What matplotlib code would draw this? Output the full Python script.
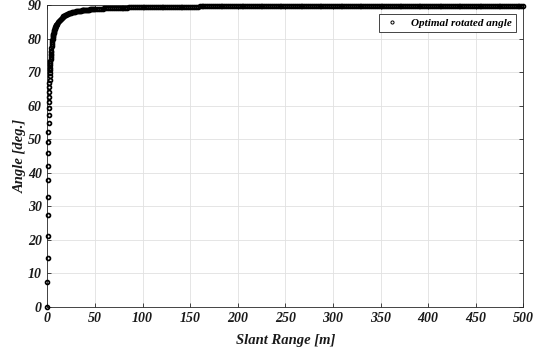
import matplotlib
matplotlib.use('Agg')
import matplotlib.pyplot as plt
import numpy as np

# ---------------- data ----------------
# steep part: individual markers near the y-axis
near_range = [0.000, 0.125, 0.250, 0.375, 0.500, 0.625, 0.750, 0.875,
              1.000, 1.125, 1.250, 1.375, 1.500, 1.625, 1.750, 1.875,
              2.000, 2.125, 2.250, 2.375, 2.500, 2.625, 2.750, 2.875,
              3.000, 3.125, 3.250, 3.375, 3.500, 3.625, 3.750, 3.875]
near_angle = [0.00, 7.35, 14.47, 21.16, 27.30, 32.83, 37.75, 42.08,
              45.91, 49.27, 52.22, 54.83, 57.14, 59.19, 61.03, 62.67,
              64.16, 65.50, 66.71, 67.81, 68.82, 69.74, 70.60, 71.38,
              72.10, 72.78, 73.40, 73.98, 74.53, 75.04, 75.52, 75.96]

# knee of the curve
knee_range = [4.00, 4.25, 4.50, 4.75, 5.00, 5.25, 5.50, 5.75, 6.00,
              6.25, 6.50, 6.75, 7.00, 7.25, 7.50, 7.75, 8.00, 8.25,
              8.50, 8.75, 9.00, 9.25, 9.50, 9.75, 10.00]
knee_angle = [76.37, 77.14, 77.83, 78.46, 79.02, 79.53, 80.00, 80.43, 80.82,
              81.18, 81.51, 81.82, 82.11, 82.38, 82.63, 82.86, 83.09, 83.29,
              83.49, 83.67, 83.85, 84.01, 84.17, 84.32, 84.46]

# 11 .. 50 m, every metre
mid_range = list(range(11, 51))
mid_angle = [84.96, 85.38, 85.73, 86.04, 86.30, 86.53, 86.73, 86.92, 87.08, 87.22,
             87.35, 87.47, 87.58, 87.69, 87.78, 87.86, 87.94, 88.01, 88.08, 88.15,
             88.21, 88.26, 88.32, 88.37, 88.41, 88.46, 88.50, 88.54, 88.57, 88.61,
             88.64, 88.68, 88.71, 88.74, 88.76, 88.79, 88.82, 88.84, 88.87, 88.89]

# 52 .. 500 m, every 2 m
far_range = list(range(52, 501, 2))
far_angle = [88.9, 89.0, 89.0, 89.0, 89.1, 89.1, 89.1, 89.2, 89.2, 89.2, 89.2, 89.2,
             89.3, 89.3, 89.3, 89.3, 89.3,
             89.4, 89.4, 89.4, 89.4, 89.4, 89.4, 89.4, 89.4,
             89.5, 89.5, 89.5, 89.5, 89.5, 89.5, 89.5, 89.5, 89.5, 89.5, 89.5,
             89.6, 89.6, 89.6, 89.6, 89.6, 89.6, 89.6, 89.6, 89.6,
             89.6, 89.6, 89.6, 89.6, 89.6, 89.6, 89.6, 89.6, 89.6,
             89.7, 89.7, 89.7, 89.7, 89.7, 89.7, 89.7, 89.7,
             89.7, 89.7, 89.7, 89.7, 89.7, 89.7, 89.7, 89.7,
             89.7, 89.7, 89.7, 89.7, 89.7, 89.7, 89.7, 89.7,
             89.7, 89.7, 89.7, 89.7, 89.7, 89.7, 89.7, 89.7,
             89.8, 89.8, 89.8, 89.8, 89.8, 89.8, 89.8, 89.8, 89.8, 89.8,
             89.8, 89.8, 89.8, 89.8, 89.8, 89.8, 89.8, 89.8, 89.8, 89.8,
             89.8, 89.8, 89.8, 89.8, 89.8, 89.8, 89.8, 89.8, 89.8, 89.8,
             89.8, 89.8, 89.8, 89.8, 89.8, 89.8, 89.8, 89.8, 89.8, 89.8,
             89.8, 89.8, 89.8, 89.8, 89.8, 89.8, 89.8, 89.8, 89.8, 89.8,
             89.8, 89.8, 89.8, 89.8, 89.8, 89.8, 89.8, 89.8, 89.8, 89.8,
             89.8, 89.8, 89.8, 89.8, 89.8, 89.8, 89.8, 89.8, 89.8, 89.8,
             89.8, 89.8, 89.8, 89.8,
             89.9, 89.9, 89.9, 89.9, 89.9, 89.9, 89.9, 89.9, 89.9, 89.9,
             89.9, 89.9, 89.9, 89.9, 89.9, 89.9, 89.9, 89.9, 89.9, 89.9,
             89.9, 89.9, 89.9, 89.9, 89.9, 89.9, 89.9, 89.9, 89.9, 89.9,
             89.9, 89.9, 89.9, 89.9, 89.9, 89.9, 89.9, 89.9, 89.9, 89.9,
             89.9, 89.9, 89.9, 89.9, 89.9, 89.9, 89.9, 89.9, 89.9, 89.9,
             89.9, 89.9, 89.9, 89.9, 89.9, 89.9, 89.9, 89.9, 89.9, 89.9,
             89.9, 89.9, 89.9, 89.9, 89.9]

x_ticks = [0, 50, 100, 150, 200, 250, 300, 350, 400, 450, 500]
y_ticks = [0, 10, 20, 30, 40, 50, 60, 70, 80, 90]
series_label = 'Optimal rotated angle'
x_title = 'Slant Range [m]'
y_title = 'Angle [deg.]'

# ---------------- plot ----------------
n = min(len(far_range), len(far_angle))
x = np.concatenate([near_range, knee_range, mid_range, far_range[:n]])
y = np.concatenate([near_angle, knee_angle, mid_angle, far_angle[:n]])

FAM = ['Liberation Serif', 'DejaVu Serif']
plt.rcParams['font.family'] = FAM

fig = plt.figure(figsize=(5.45, 3.5), dpi=100)
fig.patch.set_facecolor('white')
ax = fig.add_axes([47.3 / 545, 43.3 / 350, 476 / 545, 301.4 / 350])

ax.plot(x, y, linestyle='none', marker='o', markersize=2.8,
        markerfacecolor='none', markeredgecolor='black', markeredgewidth=1.25,
        clip_on=False, label=series_label, zorder=3)

ax.set_xlim(0, 500)
ax.set_ylim(0, 90)
ax.set_xticks(x_ticks)
ax.set_yticks(y_ticks)
ax.grid(True, color='#e1e1e1', linewidth=0.6)
ax.set_axisbelow(True)

for s in ax.spines.values():
    s.set_color('#262626')
    s.set_linewidth(0.6)
ax.tick_params(direction='in', top=True, right=True, length=3, width=0.6,
               color='#262626', pad=4, labelcolor='#1a1a1a')
for lab in ax.get_xticklabels() + ax.get_yticklabels():
    lab.set_family(FAM)
    lab.set_fontweight('bold')
    lab.set_fontstyle('italic')
    lab.set_fontsize(10)

ax.set_xlabel(x_title, fontsize=10.5, labelpad=6, color='#1a1a1a',
              fontweight='bold', fontstyle='italic', family=FAM)
ax.set_ylabel(y_title, fontsize=10.5, labelpad=1, color='#1a1a1a',
              fontweight='bold', fontstyle='italic', family=FAM)

leg = ax.legend(loc='upper right', bbox_to_anchor=((515.7 - 47.3) / 476, (306.7 - 14) / 301.4),
                borderaxespad=0,
                prop=dict(family=FAM, weight='bold', style='italic', size=8),
                fancybox=False, framealpha=1,
                edgecolor='#262626', handlelength=1.6, handletextpad=0.9,
                borderpad=0.35, markerscale=0.8)
leg.get_frame().set_linewidth(0.6)
for h in leg.legend_handles:
    h.set_markeredgewidth(0.7)

fig.savefig('out.png', dpi=100, facecolor='white')
